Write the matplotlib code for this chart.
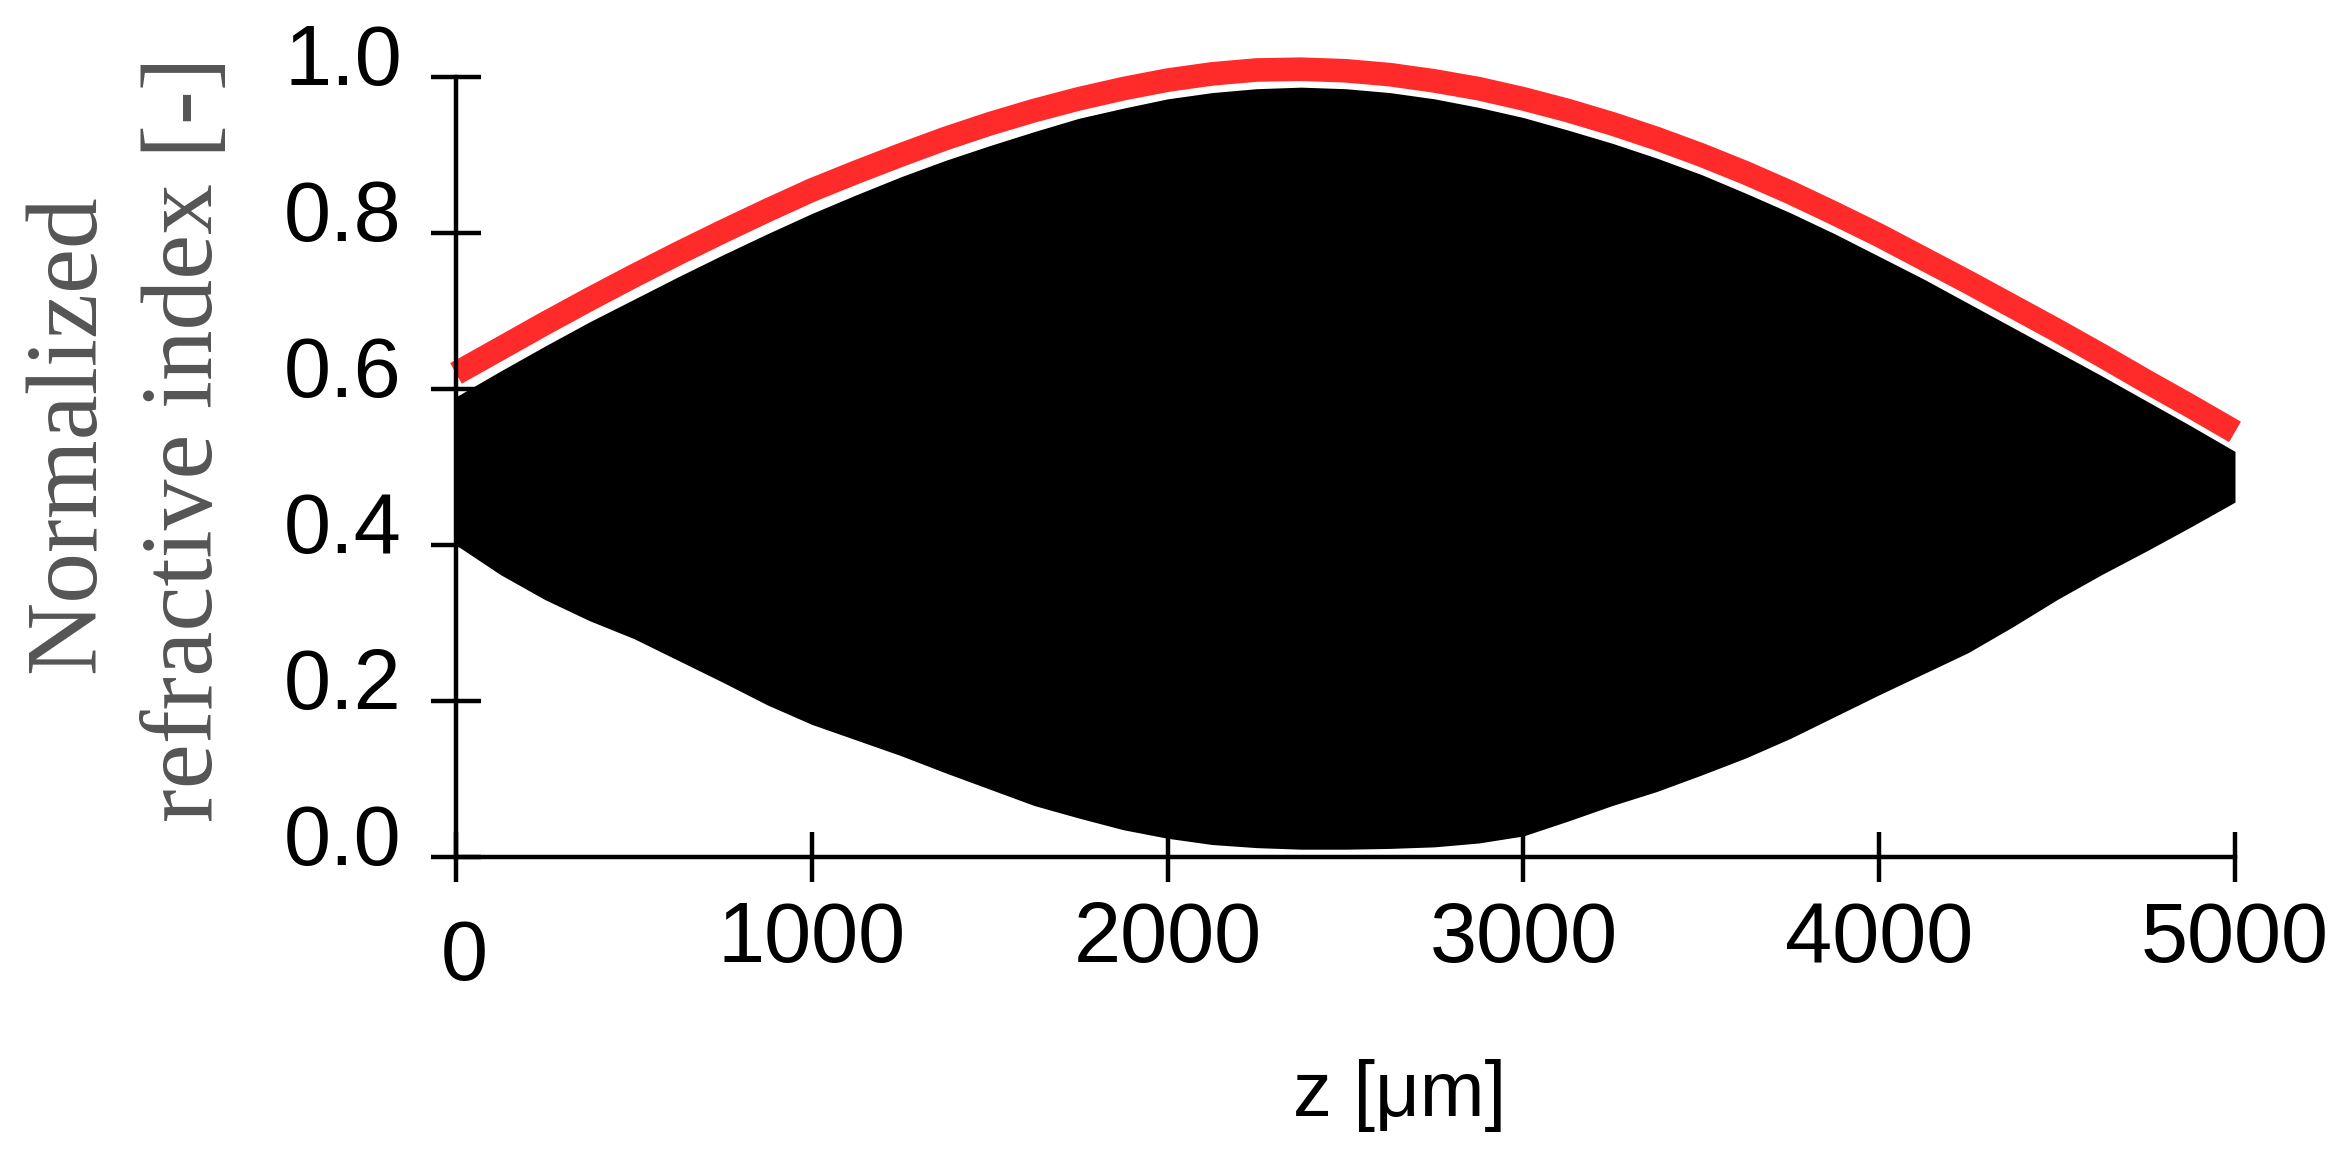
import matplotlib
matplotlib.use("Agg")
import matplotlib.pyplot as plt
from matplotlib.transforms import ScaledTranslation

z = [0, 125, 250, 375, 500, 625, 750, 875, 1000, 1125, 1250, 1375, 1500, 1625,
     1750, 1875, 2000, 2125, 2250, 2375, 2500, 2625, 2750, 2875, 3000, 3125,
     3250, 3375, 3500, 3625, 3750, 3875, 4000, 4125, 4250, 4375, 4500, 4625,
     4750, 4875, 5000]

# top and bottom of the dense black oscillation
upper = [0.590, 0.623, 0.655, 0.686, 0.715, 0.744, 0.772, 0.799, 0.825, 0.849,
         0.872, 0.893, 0.912, 0.930, 0.947, 0.960, 0.972, 0.980, 0.985, 0.987,
         0.985, 0.980, 0.972, 0.961, 0.948, 0.932, 0.915, 0.896, 0.875, 0.851,
         0.826, 0.799, 0.770, 0.741, 0.710, 0.679, 0.648, 0.617, 0.585, 0.553,
         0.520]
lower = [0.400, 0.362, 0.330, 0.303, 0.280, 0.252, 0.224, 0.195, 0.170, 0.150,
         0.130, 0.108, 0.087, 0.066, 0.050, 0.035, 0.024, 0.016, 0.012, 0.010,
         0.010, 0.011, 0.013, 0.018, 0.027, 0.046, 0.066, 0.084, 0.105, 0.127,
         0.152, 0.180, 0.208, 0.235, 0.262, 0.295, 0.330, 0.362, 0.392, 0.423,
         0.455]

# red envelope curve
red = [0.620, 0.652, 0.684, 0.715, 0.745, 0.774, 0.802, 0.829, 0.855, 0.878,
       0.900, 0.921, 0.940, 0.957, 0.972, 0.985, 0.996, 1.004, 1.009, 1.010,
       1.008, 1.003, 0.995, 0.985, 0.972, 0.957, 0.940, 0.921, 0.900, 0.877,
       0.852, 0.825, 0.797, 0.767, 0.737, 0.706, 0.675, 0.643, 0.610, 0.578,
       0.545]

xticks = [0, 1000, 2000, 3000, 4000, 5000]
yticks = [0.0, 0.2, 0.4, 0.6, 0.8, 1.0]


def main():
    W, H = 2350, 1162
    fig = plt.figure(figsize=(W / 100, H / 100), dpi=100)
    ax = fig.add_axes([456 / W, (H - 857) / H, 1779 / W, (857 - 30.2) / H])

    ax.fill_between(z, lower, upper, color="black", lw=0, zorder=2)
    ax.plot(z, red, color="#ff2a2a", lw=17, solid_capstyle="butt", clip_on=False, zorder=3)

    ax.set_xlim(0, 5000)
    ax.set_ylim(0, 1.06)

    for s in ["top", "right"]:
        ax.spines[s].set_visible(False)
    ax.spines["left"].set_bounds(0, 1)
    ax.spines["bottom"].set_bounds(0, 5000)
    for s in ["left", "bottom"]:
        ax.spines[s].set_linewidth(3.2)
        ax.spines[s].set_zorder(4)

    ax.set_xticks(xticks)
    ax.set_yticks(yticks)
    ax.set_xticklabels([str(v) for v in xticks])
    ax.set_yticklabels(["%.1f" % v for v in yticks])
    ax.tick_params(axis="both", direction="inout", length=36, width=3.2, labelsize=61)
    ax.tick_params(axis="x", pad=13)
    ax.tick_params(axis="y", pad=21)
    for lbl in ax.get_xticklabels() + ax.get_yticklabels():
        lbl.set_family("Liberation Sans")

    # labels in the picture sit a bit off their ticks
    for lbl in ax.get_yticklabels():
        lbl.set_transform(lbl.get_transform() + ScaledTranslation(0, 0.23, fig.dpi_scale_trans))
    zero = ax.get_xticklabels()[0]
    zero.set_transform(zero.get_transform() + ScaledTranslation(0.08, -0.18, fig.dpi_scale_trans))

    # y label, two lines, serif grey
    fig.text(70 / W, 1 - 434 / H, "Normalized", rotation=90, ha="center", va="center",
             family="Liberation Serif", fontsize=73, color="#555555")
    fig.text(188 / W, 1 - 439 / H, "refractive index [-]", rotation=90, ha="center", va="center",
             family="Liberation Serif", fontsize=73, color="#555555")

    fig.text(1400 / W, 1 - 1096 / H, "z [\u03bcm]", ha="center", va="center",
             family="Liberation Sans", fontsize=56, color="black")

    fig.savefig("out.png", dpi=100)


main()
